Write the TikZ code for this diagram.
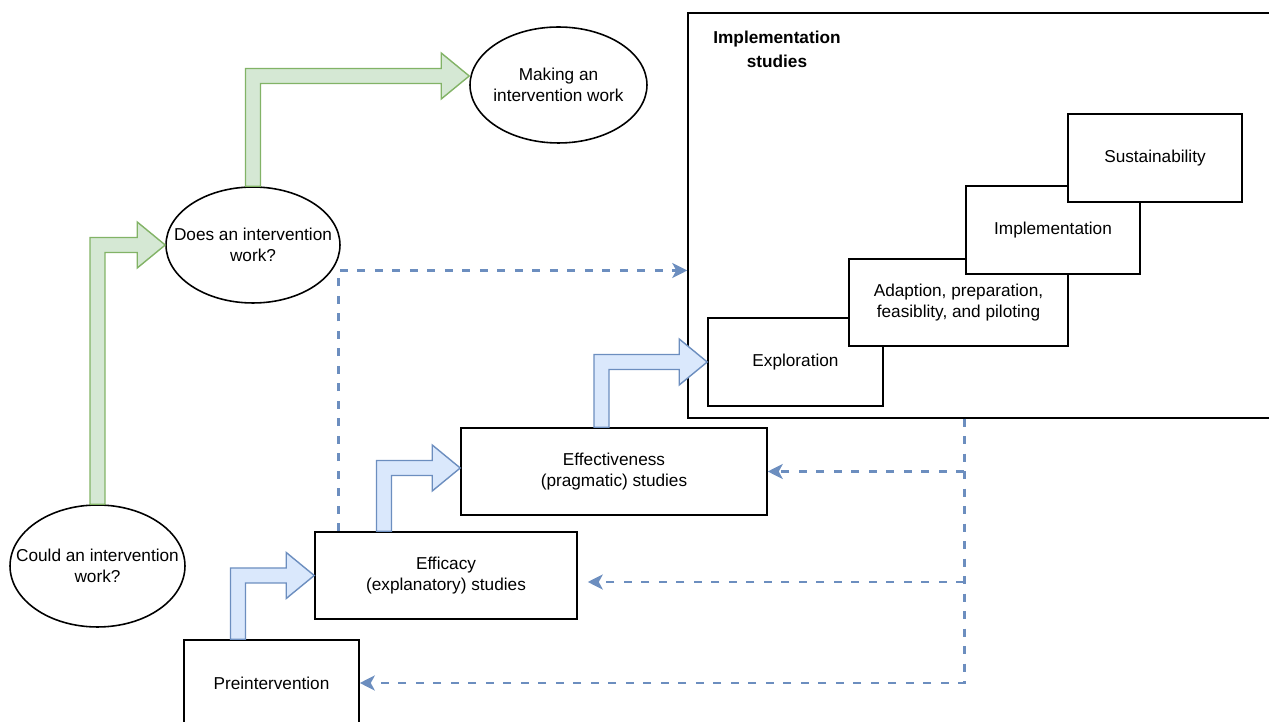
\documentclass[tikz,border=0pt]{standalone}
\usepackage{fontspec}
\setmainfont{Liberation Sans}
\usetikzlibrary{arrows.meta,calc,shapes.geometric}
\definecolor{greenfill}{HTML}{D5E8D4}
\definecolor{greenline}{HTML}{82B366}
\definecolor{bluefill}{HTML}{DAE8FC}
\definecolor{blueline}{HTML}{6C8EBF}
% elbow block arrow: up from #2, then right to #3
\def\shaftw{0.15cm}
\def\headw{0.46cm}
\def\headl{0.56cm}
\newcommand{\bentarrow}[3]{%
  \draw[#1] let \p1=(#2), \p2=(#3) in
    (\x1-\shaftw,\y1) -- (\x1-\shaftw,\y2+\shaftw) -- (\x2-\headl,\y2+\shaftw)
    -- (\x2-\headl,\y2+\headw) -- (\x2,\y2) -- (\x2-\headl,\y2-\headw)
    -- (\x2-\headl,\y2-\shaftw) -- (\x1+\shaftw,\y2-\shaftw) -- (\x1+\shaftw,\y1) -- cycle;}
\begin{document}
\begin{tikzpicture}[x=0.02cm, y=-0.02cm,
    font=\fontsize{9.8pt}{12.3pt}\selectfont,
    box/.style={draw, line width=0.9pt, fill=white, align=center, inner sep=0pt},
    oval/.style={ellipse, draw, line width=0.9pt, fill=white, align=center, inner sep=-0.6cm},
    greenblock/.style={fill=greenfill, draw=greenline, line width=0.8pt},
    blueblock/.style={fill=bluefill, draw=blueline, line width=0.8pt},
    feedback/.style={draw=blueline, line width=1.5pt, dash pattern=on 0.16cm off 0.19cm,
        -{Stealth[length=0.3cm, width=0.3cm, inset=0.08cm]}}]
    \useasboundingbox (0,0) rectangle (1269,722);
    % implementation studies frame
    \node[box, minimum width=11.74cm, minimum height=8.1cm] (impl) at (981.5,215.5) {};
    \node[font=\fontsize{9.8pt}{13.6pt}\selectfont\bfseries, align=center] (impltitle) at (777,49) {Implementation\\studies};
    % stairs, each step on top of the one before
    \node[box, minimum width=3.5cm, minimum height=1.76cm] (explore) at (795.5,362) {Exploration};
    \node[box, minimum width=4.38cm, minimum height=1.74cm] (adapt) at (958.5,302.5) {Adaption, preparation,\\feasiblity, and piloting};
    \node[box, minimum width=3.48cm, minimum height=1.76cm] (implement) at (1053,230) {Implementation};
    \node[box, minimum width=3.48cm, minimum height=1.76cm] (sustain) at (1155,158) {Sustainability};
    % study boxes
    \node[box, minimum width=3.5cm, minimum height=1.72cm] (pre) at (271.5,683) {Preintervention};
    \node[box, minimum width=5.24cm, minimum height=1.74cm] (efficacy) at (446,575.5) {Efficacy\\(explanatory) studies};
    \node[box, minimum width=6.12cm, minimum height=1.74cm] (effect) at (614,471.5) {Effectiveness\\(pragmatic) studies};
    % questions
    \node[oval, minimum width=3.5cm, minimum height=2.44cm] (could) at (97.5,566) {Could an intervention\\work?};
    \node[oval, minimum width=3.48cm, minimum height=2.32cm] (does) at (253,245) {Does an intervention\\work?};
    \node[oval, minimum width=3.54cm, minimum height=2.32cm] (making) at (558.5,85) {Making an\\intervention work};
    % green block arrows
    \bentarrow{greenblock}{could.north}{does.west}
    \bentarrow{greenblock}{does.north}{[yshift=0.18cm]making.west}
    % blue block arrows
    \bentarrow{blueblock}{[xshift=-0.67cm]pre.north}{efficacy.west}
    \bentarrow{blueblock}{[xshift=-1.24cm]efficacy.north}{[yshift=0.07cm]effect.west}
    \bentarrow{blueblock}{[xshift=-0.25cm]effect.north}{explore.west}
    % dashed feedback lines
    \draw[feedback] ([xshift=0.48cm]efficacy.north west) |- ([yshift=-1.1cm]impl.west);
    \coordinate (fork) at ([xshift=5.54cm]impl.south west);
    \coordinate (effin) at ([yshift=-0.13cm]efficacy.east);
    \draw[feedback] (fork) |- (pre.east);
    \draw[feedback] (fork |- effect.east) -- (effect.east);
    \draw[feedback, shorten >=0.2cm] (fork |- effin) -- (effin);
\end{tikzpicture}
\end{document}
